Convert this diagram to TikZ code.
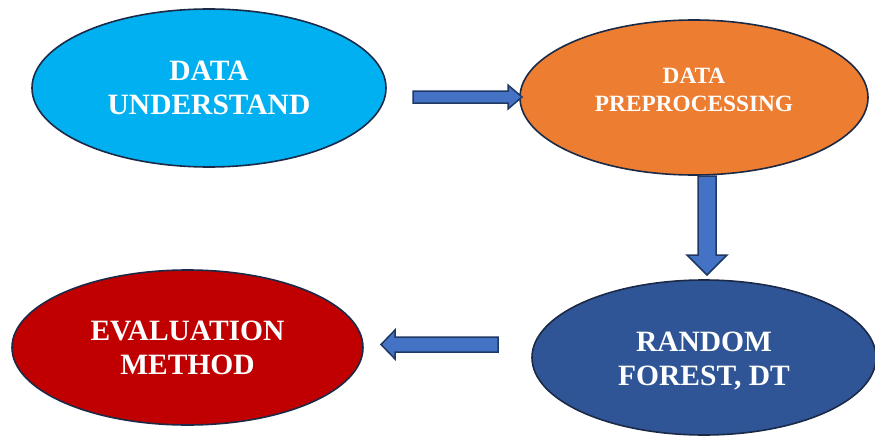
\documentclass[tikz,border=0pt]{standalone}
\usepackage{fontspec}
\setmainfont{Liberation Serif}
\usetikzlibrary{shapes.geometric}
\definecolor{cyanfill}{HTML}{00B0F0}
\definecolor{orangefill}{HTML}{ED7D31}
\definecolor{redfill}{HTML}{C00000}
\definecolor{bluefill}{HTML}{2F5597}
\definecolor{navyline}{HTML}{1B2A47}
\definecolor{arrowfill}{HTML}{4472C4}
\definecolor{arrowline}{HTML}{1F3864}
\tikzset{
  stage/.style={ellipse, draw=navyline, line width=1.6pt, inner sep=0pt,
    text=white, align=center, font=\bfseries\fontsize{29.5}{34}\selectfont},
  stagetext/.style={inner sep=0pt, text=white, align=center,
    font=\bfseries\fontsize{29.5}{34}\selectfont},
  blockarrow/.style={fill=arrowfill, draw=arrowline, line width=1.5pt, line join=miter}
}
\begin{document}
\begin{tikzpicture}[x=1pt,y=-1pt]
\useasboundingbox (0,0) rectangle (875,436);
\node[stage, fill=cyanfill, minimum width=354pt, minimum height=158pt] (und) at (209,88) {DATA\\UNDERSTAND};
\node[stage, fill=orangefill, minimum width=348pt, minimum height=155pt] (pre) at (694,97.5) {};
\node[stagetext, font=\bfseries\fontsize{23.3}{28}\selectfont] (pretext) at ([yshift=8pt]pre.center) {DATA\\PREPROCESSING};
\node[stage, fill=bluefill, minimum width=344pt, minimum height=155pt] (rf) at (704,357.5) {};
\node[stagetext] (rftext) at ([yshift=-4pt]rf.center) {RANDOM\\FOREST, DT};
\node[stage, fill=redfill, minimum width=351pt, minimum height=155pt] (eval) at (187.5,347.5) {EVALUATION\\METHOD};
% right arrow
\draw[blockarrow] (413,91) -- (508,91) -- (508,85) -- (522,97) -- (508,109) -- (508,103) -- (413,103) -- cycle;
% down arrow
\draw[blockarrow] (698,176) -- (716,176) -- (716,255) -- (727,255) -- (707,275) -- (687,255) -- (698,255) -- cycle;
% left arrow
\draw[blockarrow] (498,337) -- (395,337) -- (395,330) -- (381,344.5) -- (395,359) -- (395,352) -- (498,352) -- cycle;
\end{tikzpicture}
\end{document}
